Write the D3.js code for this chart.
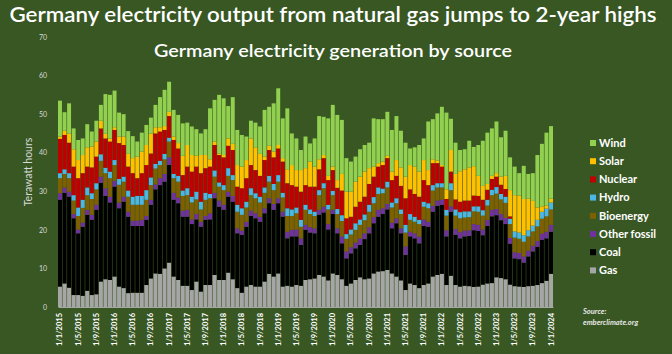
<!DOCTYPE html>
<html>
<head>
<meta charset="utf-8">
<script src="https://cdn.jsdelivr.net/npm/d3@7"></script>
<style>
  html, body { margin: 0; padding: 0; background: #385723; }
  svg { display: block; font-family: Lato, "Open Sans", sans-serif; }
</style>
</head>
<body>
<svg id="chart" width="672" height="354"></svg>
<script>
// monthly generation, TWh, Jan 2015 .. Jan 2024
var startYear = 2015;

var gas = [
  5.3, 6.1, 5.0, 3.1, 3.1, 2.9, 4.2, 3.1, 3.3, 6.6, 7.2, 7.0,
  7.9, 5.3, 4.9, 3.6, 3.7, 3.7, 3.7, 5.7, 7.4, 8.7, 8.6, 10.0,
  11.5, 7.9, 7.0, 5.5, 5.5, 4.4, 6.6, 4.0, 5.7, 5.7, 8.3, 7.0,
  7.0, 8.9, 7.2, 4.9, 3.7, 5.3, 5.7, 5.3, 5.3, 6.6, 8.6, 7.9,
  8.7, 5.3, 5.5, 5.3, 5.7, 5.5, 7.0, 7.2, 7.4, 8.3, 7.9, 6.9,
  8.7, 8.3, 7.2, 5.5, 6.1, 7.0, 7.7, 7.2, 7.4, 8.7, 9.2, 9.3,
  9.6, 8.7, 7.9, 6.9, 4.4, 6.1, 5.7, 4.9, 5.7, 6.1, 7.9, 8.3,
  8.6, 5.7, 8.1, 5.7, 5.3, 5.5, 5.4, 5.2, 5.3, 5.8, 6.1, 6.2,
  7.7, 7.5, 7.2, 5.8, 5.4, 5.3, 5.2, 5.4, 5.5, 5.7, 6.2, 6.8,
  8.6
];

var coal = [
  22.5, 23.5, 23.6, 19.9, 16.0, 17.9, 19.7, 19.5, 21.9, 25.6, 21.6, 20.1,
  23.3, 20.3, 22.4, 19.8, 17.3, 17.3, 17.3, 16.9, 19.1, 21.8, 23.0, 22.5,
  25.3, 19.9, 19.9, 17.9, 17.9, 17.1, 16.1, 16.8, 16.9, 17.0, 19.9, 19.0,
  18.2, 19.7, 20.1, 14.2, 15.0, 15.5, 17.9, 17.7, 16.8, 17.7, 18.3, 17.3,
  18.2, 18.1, 12.3, 13.0, 12.6, 10.6, 13.0, 12.1, 11.7, 15.6, 16.6, 13.2,
  15.4, 10.8, 9.3, 7.1, 7.8, 8.2, 8.4, 10.4, 11.7, 13.0, 14.2, 14.8,
  15.7, 11.7, 13.8, 12.2, 9.1, 12.2, 12.1, 11.6, 15.3, 14.7, 16.8, 17.9,
  17.9, 12.6, 16.6, 13.0, 12.5, 12.8, 13.0, 14.7, 14.4, 12.8, 14.9, 17.3,
  16.1, 15.0, 14.3, 10.6, 7.2, 7.1, 6.3, 7.7, 8.9, 9.9, 11.2, 11.0,
  10.9
];

var otherFossil = [
  1.7, 1.4, 1.3, 1.1, 1.0, 1.1, 1.3, 1.3, 1.3, 1.6, 2.0, 1.5,
  1.5, 1.5, 1.3, 1.3, 1.4, 1.4, 1.6, 1.0, 1.3, 1.3, 1.8, 2.0,
  2.0, 1.8, 1.5, 1.6, 1.8, 1.2, 1.4, 1.3, 1.0, 1.6, 1.4, 1.6,
  1.3, 1.3, 1.5, 1.3, 1.1, 1.3, 1.4, 1.3, 1.3, 1.3, 1.3, 1.5,
  1.3, 1.3, 1.7, 1.7, 1.8, 1.7, 1.3, 1.4, 1.3, 1.3, 1.5, 1.4,
  1.1, 1.3, 1.8, 1.8, 1.6, 1.5, 1.7, 1.5, 1.6, 1.6, 1.8, 1.5,
  1.4, 1.5, 1.3, 1.3, 2.2, 1.2, 1.3, 1.8, 1.7, 1.3, 1.5, 1.4,
  1.3, 1.6, 1.4, 1.5, 1.6, 1.5, 1.5, 1.6, 1.6, 1.5, 1.6, 1.7,
  1.6, 1.6, 1.6, 1.5, 1.6, 1.6, 1.6, 1.5, 1.5, 1.5, 1.6, 1.7,
  1.8
];

var bioenergy = [
  3.9, 3.5, 3.5, 3.5, 3.5, 3.8, 3.8, 4.1, 4.0, 4.1, 3.9, 4.8,
  4.1, 4.6, 3.9, 3.9, 4.1, 4.1, 3.9, 4.2, 3.8, 4.1, 3.4, 3.8,
  4.1, 3.8, 4.1, 3.8, 3.8, 4.4, 3.8, 3.2, 4.2, 3.9, 4.2, 3.6,
  3.8, 4.1, 4.1, 4.3, 4.1, 3.7, 4.0, 3.9, 3.7, 4.0, 4.3, 3.6,
  4.3, 3.7, 4.1, 3.6, 4.2, 3.0, 3.9, 3.4, 3.2, 3.8, 4.8, 3.8,
  3.8, 3.7, 4.0, 3.3, 3.3, 3.3, 3.5, 3.4, 4.0, 3.6, 4.1, 3.9,
  4.3, 3.9, 3.9, 3.7, 3.6, 3.1, 3.0, 3.2, 3.3, 3.5, 4.0, 3.4,
  3.2, 3.8, 4.2, 3.5, 3.6, 3.4, 3.4, 3.3, 3.4, 3.6, 3.7, 3.8,
  4.0, 3.8, 3.9, 3.6, 3.8, 3.7, 3.8, 3.7, 3.7, 3.8, 3.9, 4.0,
  4.0
];

var hydro = [
  1.3, 1.2, 1.3, 1.4, 2.2, 2.1, 2.0, 1.5, 1.6, 1.7, 1.4, 1.7,
  1.3, 1.5, 1.3, 1.6, 2.1, 2.3, 2.3, 2.5, 2.0, 1.2, 1.1, 1.4,
  1.0, 1.1, 1.5, 1.4, 1.8, 1.5, 2.0, 2.0, 1.8, 1.1, 1.6, 1.1,
  1.3, 2.0, 1.3, 1.8, 1.7, 1.5, 1.8, 1.3, 1.5, 1.4, 1.5, 1.6,
  1.7, 1.2, 2.0, 1.7, 1.5, 1.8, 1.3, 1.2, 1.1, 1.3, 1.3, 1.2,
  1.1, 1.3, 1.5, 1.2, 1.3, 1.7, 1.4, 1.5, 1.8, 1.6, 1.7, 1.2,
  1.5, 1.3, 1.3, 1.2, 2.0, 1.5, 1.3, 1.1, 1.3, 1.3, 1.4, 1.1,
  1.1, 1.5, 1.8, 1.6, 1.6, 1.6, 1.5, 1.3, 1.4, 1.4, 1.5, 1.4,
  1.7, 1.4, 1.6, 1.4, 1.6, 1.6, 1.7, 1.6, 1.5, 1.7, 1.8, 2.0,
  1.8
];

var nuclear = [
  8.9, 8.9, 7.9, 7.4, 7.6, 6.9, 5.4, 6.7, 6.9, 6.7, 7.6, 7.8,
  7.8, 9.3, 8.2, 6.2, 6.1, 4.6, 5.9, 6.5, 6.2, 7.9, 7.6, 6.2,
  5.6, 8.8, 7.1, 4.0, 5.6, 6.5, 6.5, 7.4, 6.4, 7.1, 6.6, 7.1,
  7.2, 5.8, 6.5, 4.7, 5.2, 6.1, 6.0, 6.0, 5.4, 7.1, 6.7, 6.9,
  6.9, 8.1, 6.5, 6.3, 5.4, 7.3, 5.1, 5.9, 6.5, 5.4, 6.5, 6.4,
  5.4, 5.5, 6.4, 4.1, 3.3, 4.3, 4.6, 4.6, 5.4, 5.3, 5.4, 6.1,
  6.1, 5.8, 5.8, 6.1, 6.9, 6.4, 5.9, 6.0, 5.6, 4.7, 5.7, 5.2,
  4.3, 2.8, 3.0, 2.6, 2.7, 2.8, 2.8, 2.8, 2.7, 2.7, 2.6, 2.8,
  2.7, 2.4, 2.0, 0.6, 0, 0, 0, 0, 0, 0, 0, 0,
  0
];

var solar = [
  0.6, 1.1, 2.4, 4.5, 4.7, 4.7, 5.0, 5.4, 3.9, 2.0, 1.2, 0.8,
  0.7, 1.7, 2.2, 3.3, 3.9, 5.6, 5.6, 5.2, 5.2, 1.6, 1.1, 1.0,
  1.1, 0.9, 1.4, 5.0, 5.6, 4.3, 2.8, 4.7, 3.4, 1.9, 0.9, 0.4,
  0.6, 1.9, 1.6, 5.6, 5.6, 4.7, 6.9, 5.9, 5.7, 0.9, 1.1, 1.5,
  0.9, 0.9, 3.6, 5.2, 4.3, 5.6, 4.4, 6.5, 5.2, 2.6, 0.8, 1.1,
  0.9, 2.0, 4.3, 6.9, 6.5, 6.5, 6.5, 6.5, 4.1, 2.6, 0.9, 0.9,
  0.6, 2.2, 4.1, 4.8, 5.6, 6.3, 7.1, 6.5, 5.2, 3.9, 1.0, 0.7,
  0.4, 2.5, 5.6, 6.6, 7.9, 8.1, 8.6, 7.6, 5.2, 3.6, 1.5, 0.8,
  0.9, 2.1, 3.4, 6.8, 9.4, 9.6, 9.4, 8.2, 6.4, 3.2, 1.4, 0.8,
  1.0
];

var wind = [
  9.3, 4.8, 7.8, 5.4, 5.2, 4.3, 6.0, 3.9, 5.4, 4.1, 10.3, 11.3,
  9.5, 6.2, 5.8, 5.9, 5.7, 3.9, 4.9, 5.2, 4.1, 5.8, 7.8, 9.4,
  7.8, 6.9, 7.3, 8.4, 5.8, 7.4, 6.9, 5.6, 6.7, 13.2, 10.8, 15.2,
  14.7, 8.4, 12.1, 9.1, 8.2, 6.1, 4.6, 6.4, 7.1, 12.1, 10.1, 12.5,
  14.7, 10.3, 15.8, 8.2, 8.2, 5.2, 8.2, 4.7, 7.3, 11.2, 9.9, 14.9,
  16.0, 16.9, 14.0, 8.7, 7.8, 6.5, 7.1, 6.9, 6.6, 12.5, 11.4, 11.0,
  11.4, 10.8, 11.4, 9.5, 8.8, 4.3, 5.0, 6.9, 5.6, 12.6, 10.4, 12.2,
  15.1, 19.9, 8.1, 8.1, 5.5, 5.2, 6.9, 5.0, 8.0, 11.7, 13.3, 12.3,
  13.4, 10.2, 11.7, 8.5, 7.4, 5.8, 8.6, 6.4, 7.2, 13.6, 16.2, 18.9,
  18.8
];

var sources = ['Gas', 'Coal', 'Other fossil', 'Bioenergy', 'Hydro', 'Nuclear', 'Solar', 'Wind'];
var seriesValues = [gas, coal, otherFossil, bioenergy, hydro, nuclear, solar, wind];
var colors = ['#a6a6a6', '#000000', '#7030a0', '#7f6000', '#4db6e4', '#c00000', '#ffc000', '#92d050'];
var yTicks = [0, 10, 20, 30, 40, 50, 60, 70];

(function () {
    // month labels, day/month/year like the original
    var months = gas.map(function (d, i) {
        return '1/' + (i % 12 + 1) + '/' + (startYear + Math.floor(i / 12));
    });

    var rows = months.map(function (m, i) {
        var row = { month: i };
        sources.forEach(function (s, k) { row[s] = seriesValues[k][i]; });
        return row;
    });

    var svg = d3.select('#chart');
    var W = 672, H = 354;
    var plotLeft = 58, plotRight = 553, plotTop = 37, plotBottom = 307;

    svg.append('rect').attr('width', W).attr('height', H).attr('fill', '#385723');

    var x = d3.scaleBand()
        .domain(d3.range(months.length))
        .range([plotLeft, plotRight])
        .paddingInner(0.13)
        .paddingOuter(0);

    var y = d3.scaleLinear().domain([0, 70]).range([plotBottom, plotTop]);

    var stack = d3.stack().keys(sources)(rows);
    var color = d3.scaleOrdinal().domain(sources).range(colors);

    svg.append('g')
        .selectAll('g')
        .data(stack)
        .enter().append('g')
        .attr('fill', function (d) { return color(d.key); })
        .selectAll('rect')
        .data(function (d) { return d; })
        .enter().append('rect')
        .attr('x', function (d) { return x(d.data.month); })
        .attr('y', function (d) { return y(d[1]); })
        .attr('width', x.bandwidth())
        .attr('height', function (d) { return y(d[0]) - y(d[1]); });

    // y axis
    var yAxis = svg.append('g')
        .attr('transform', 'translate(50,0)')
        .call(d3.axisLeft(y).tickValues(yTicks).tickSize(0).tickPadding(3));
    yAxis.select('.domain').remove();
    yAxis.selectAll('text')
        .attr('fill', '#d9d9d9')
        .attr('font-size', 7)
        .attr('font-family', 'Lato, sans-serif');

    // x axis
    var xAxis = svg.append('g')
        .attr('transform', 'translate(0,' + plotBottom + ')')
        .call(d3.axisBottom(x)
            .tickValues(d3.range(0, months.length, 4))
            .tickFormat(function (i) { return months[i]; })
            .tickSize(0)
            .tickSizeOuter(0));
    xAxis.select('.domain').attr('stroke', '#bfbfbf').attr('stroke-width', 0.8);
    xAxis.selectAll('text')
        .attr('transform', 'rotate(-90)')
        .attr('x', -6)
        .attr('y', 0)
        .attr('dy', '0.33em')
        .attr('text-anchor', 'end')
        .attr('fill', '#ffffff')
        .attr('font-size', 7.5)
        .attr('font-weight', 'bold')
        .attr('font-family', 'Lato, sans-serif');

    // axis title
    svg.append('text')
        .attr('transform', 'translate(32,' + ((plotTop + plotBottom) / 2) + ')rotate(-90)')
        .attr('text-anchor', 'middle')
        .attr('fill', '#d9d9d9')
        .attr('font-size', 10.5)
        .text('Terawatt hours');

    // titles
    svg.append('text')
        .attr('x', 333)
        .attr('y', 22)
        .attr('text-anchor', 'middle')
        .attr('fill', '#ffffff')
        .attr('font-size', 21)
        .attr('font-weight', 600)
        .attr('textLength', 647)
        .attr('lengthAdjust', 'spacingAndGlyphs')
        .text('Germany electricity output from natural gas jumps to 2-year highs');

    svg.append('text')
        .attr('x', 333)
        .attr('y', 57)
        .attr('text-anchor', 'middle')
        .attr('fill', '#ffffff')
        .attr('font-size', 17)
        .attr('font-weight', 600)
        .attr('textLength', 358)
        .attr('lengthAdjust', 'spacingAndGlyphs')
        .text('Germany electricity generation by source');

    // legend, Wind on top
    var legend = svg.append('g')
        .selectAll('g')
        .data(sources.slice().reverse())
        .enter().append('g')
        .attr('transform', function (d, i) { return 'translate(590,' + (143 + i * 18.2) + ')'; });

    legend.append('rect')
        .attr('x', 0)
        .attr('y', -3)
        .attr('width', 6)
        .attr('height', 6)
        .attr('fill', function (d) { return color(d); });

    legend.append('text')
        .attr('x', 9)
        .attr('y', 0)
        .attr('dy', '0.35em')
        .attr('fill', '#ffffff')
        .attr('font-size', 11)
        .attr('font-weight', 'bold')
        .text(function (d) { return d; });

    // source note
    var note = svg.append('text')
        .attr('fill', '#e6e6e6')
        .attr('font-size', 7.5)
        .attr('font-weight', 'bold')
        .attr('font-style', 'italic');
    note.append('tspan').attr('x', 583).attr('y', 314).text('Source:');
    note.append('tspan').attr('x', 583).attr('y', 325).text('emberclimate.org');
})();
</script>
</body>
</html>
